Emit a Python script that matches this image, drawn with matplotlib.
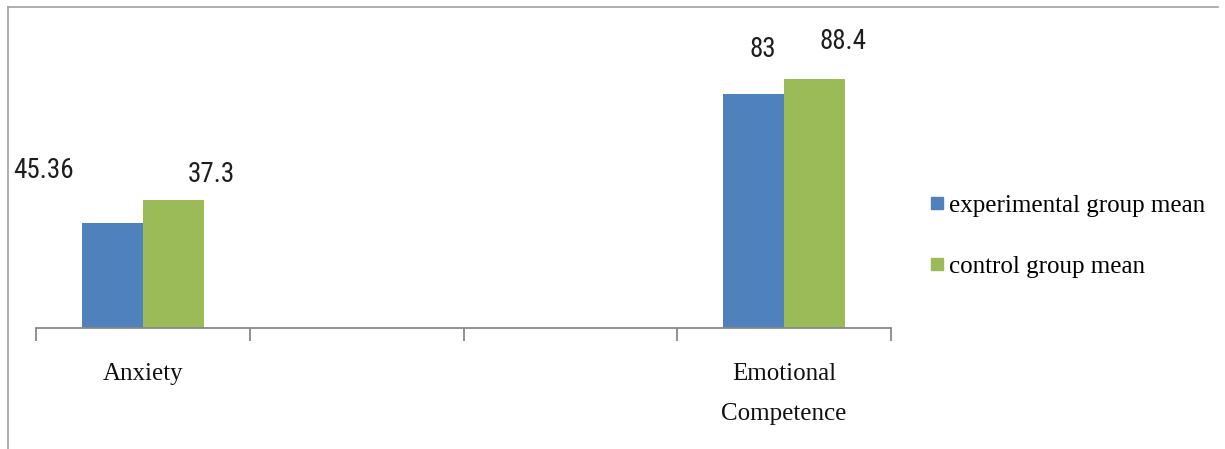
import matplotlib
matplotlib.use("Agg")
import matplotlib.pyplot as plt
from matplotlib.lines import Line2D
from matplotlib import font_manager
import numpy as np

categories = ["Anxiety", "", "", "Emotional\nCompetence"]
series_names = ["experimental group mean", "control group mean"]
exp_heights = [37.3, np.nan, np.nan, 83.0]
ctrl_heights = [45.36, np.nan, np.nan, 88.4]
exp_labels = ["45.36", None, None, "83"]
ctrl_labels = ["37.3", None, None, "88.4"]

BLUE = "#4F81BD"
GREEN = "#9BBB59"
AXIS_GRAY = "#888888"

# pick a narrow sans for the value labels if one is installed
names = {f.name for f in font_manager.fontManager.ttflist}
narrow = None
for cand in ["Liberation Sans Narrow", "DejaVu Sans Condensed", "Roboto Condensed", "Open Sans Condensed"]:
    if cand in names:
        narrow = cand
        break
if narrow:
    num_font = dict(fontfamily=[narrow, "Liberation Sans"], fontsize=19.5, color="#1e1e1e")
else:
    num_font = dict(fontfamily=["Liberation Sans"], fontsize=17, color="#1e1e1e")

W, H = 1225, 449
fig = plt.figure(figsize=(W / 100, H / 100), dpi=100)
ax_left, ax_right = 36, 891
ax_top, ax_bottom = 10, 328
ax = fig.add_axes([ax_left / W, 1 - ax_bottom / H, (ax_right - ax_left) / W, (ax_bottom - ax_top) / H])

x = np.arange(len(categories))
bw = 0.285
ax.bar(x - bw / 2, exp_heights, bw, color=BLUE, label=series_names[0])
ax.bar(x + bw / 2, ctrl_heights, bw, color=GREEN, label=series_names[1])

ax.set_xlim(-0.5, len(categories) - 0.5)
ax.set_ylim(0, 112.8)

for s in ["top", "right", "left"]:
    ax.spines[s].set_visible(False)
ax.spines["bottom"].set_color(AXIS_GRAY)
ax.spines["bottom"].set_linewidth(1.3)
ax.set_yticks([])

ax.set_xticks(x)
ax.set_xticklabels(categories, fontfamily="Liberation Serif", fontsize=18, color="#111111", linespacing=2.05)
ax.tick_params(axis="x", which="major", length=0, pad=25.5)
ax.set_xticks(np.arange(-0.5, len(categories), 1.0), minor=True)
ax.tick_params(axis="x", which="minor", length=9, width=1.3, color=AXIS_GRAY)

# label offsets in pixels (dx, dy) relative to bar top centre
exp_offsets = [(-69, 52), None, None, (9, 45)]
ctrl_offsets = [(38, 26), None, None, (28, 37)]
for i in range(len(categories)):
    for heights, labels, offs, sign in ((exp_heights, exp_labels, exp_offsets, -1), (ctrl_heights, ctrl_labels, ctrl_offsets, 1)):
        if labels[i] is None:
            continue
        dx, dy = offs[i]
        ax.annotate(labels[i], xy=(x[i] + sign * bw / 2, heights[i]), xytext=(dx * 0.72, dy * 0.72),
                    textcoords="offset points", ha="center", va="center", annotation_clip=False, **num_font)

handles = [Line2D([], [], marker="s", linestyle="none", markersize=9, markerfacecolor=BLUE, markeredgecolor=BLUE),
           Line2D([], [], marker="s", linestyle="none", markersize=9, markerfacecolor=GREEN, markeredgecolor=GREEN)]
fig.legend(handles, series_names, loc="center left", bbox_to_anchor=(928 / W, 1 - 236 / H),
           frameon=False, borderpad=0, borderaxespad=0, handlelength=0.7, handletextpad=0.15,
           labelspacing=1.55, prop=dict(family="Liberation Serif", size=18))

# outer chart border (left and top)
fig.add_artist(Line2D([8 / W, 8 / W], [0, 1 - 7 / H], transform=fig.transFigure, color="#a0a0a0", lw=1.2))
fig.add_artist(Line2D([8 / W, 1218 / W], [1 - 7 / H, 1 - 7 / H], transform=fig.transFigure, color="#a0a0a0", lw=1.2))

fig.savefig("out.png", dpi=100)
